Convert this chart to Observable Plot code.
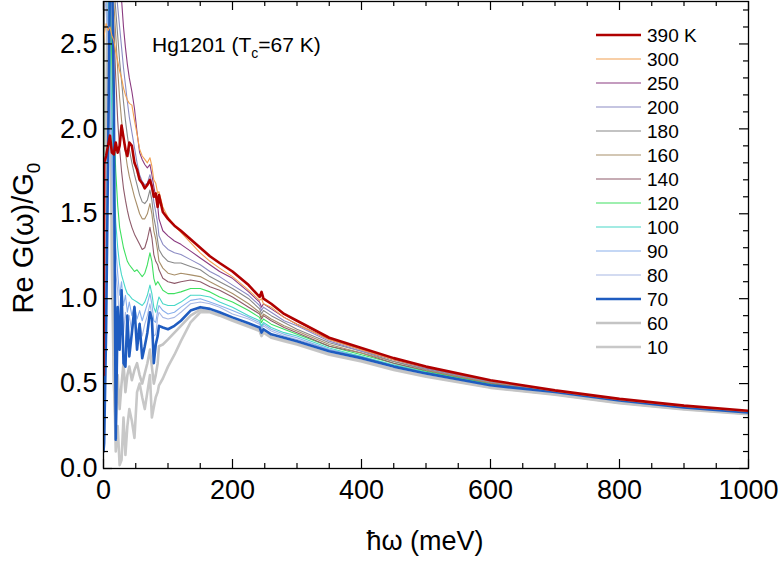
<!DOCTYPE html>
<html><head><meta charset="utf-8">
<script src="https://cdn.jsdelivr.net/npm/d3@7"></script>
<script src="https://cdn.jsdelivr.net/npm/@observablehq/plot@0.6"></script>
<style>body{margin:0;background:#fff;} #chart{position:relative;width:783px;height:562px;}</style>
</head><body><div id="chart"></div>
<script>
// photon energy grid (meV)
const energy = [0,1,4,7,10,13,16,19,22,25,28,31,34,37,40,44,48,52,56,60,64,68,72,75,78,81,84,
  86,92,100,110,120,135,150,165,180,200,225,242,245,248,260,280,300,350,400,450,500,600,700,800,900,1000];

const g390 = [0.55,1.80,1.84,1.90,1.96,1.86,1.85,1.92,1.86,1.90,2.02,1.95,1.88,1.84,1.92,1.90,1.80,1.76,1.70,1.68,1.65,1.67,1.70,1.66,1.60,1.62,1.54,
  1.61,1.51,1.47,1.43,1.40,1.35,1.30,1.25,1.21,1.16,1.08,1.01,1.04,1.00,0.97,0.91,0.87,0.77,0.71,0.65,0.60,0.52,0.46,0.41,0.37,0.34];
const g300 = [2.50,2.55,2.62,2.58,2.60,2.55,2.52,2.45,2.40,2.34,2.30,2.24,2.20,2.17,2.15,2.14,2.05,1.97,1.88,1.84,1.82,1.80,1.83,1.78,1.70,1.68,1.62,
  1.63,1.54,1.48,1.43,1.39,1.33,1.27,1.22,1.18,1.13,1.05,0.99,1.00,0.97,0.95,0.89,0.85,0.76,0.70,0.64,0.595,0.515,0.455,0.405,0.365,0.335];
const g250 = [2.80,3.00,3.00,3.00,3.00,3.00,3.00,2.95,2.90,2.85,2.76,2.60,2.48,2.38,2.30,2.22,2.12,1.98,1.86,1.82,1.79,1.77,1.79,1.73,1.66,1.60,1.55,
  1.47,1.40,1.37,1.34,1.32,1.28,1.24,1.20,1.16,1.12,1.04,0.98,0.95,0.97,0.94,0.89,0.85,0.76,0.70,0.64,0.594,0.515,0.458,0.408,0.368,0.338];
const g200 = [2.60,3.00,3.00,3.00,3.00,3.00,3.00,2.85,2.72,2.60,2.48,2.36,2.26,2.16,2.07,1.98,1.89,1.80,1.73,1.69,1.67,1.68,1.73,1.67,1.57,1.51,1.44,
  1.37,1.32,1.29,1.27,1.26,1.23,1.20,1.16,1.13,1.08,1.02,0.96,0.93,0.95,0.92,0.87,0.84,0.75,0.69,0.64,0.589,0.512,0.457,0.407,0.367,0.337];
const g180 = [2.20,3.00,3.00,3.00,3.00,2.95,2.85,2.70,2.55,2.40,2.28,2.16,2.05,1.96,1.88,1.80,1.73,1.67,1.61,1.57,1.56,1.58,1.64,1.58,1.48,1.42,1.34,
  1.29,1.25,1.22,1.21,1.21,1.19,1.17,1.13,1.10,1.06,1.00,0.94,0.91,0.93,0.90,0.86,0.82,0.74,0.69,0.63,0.585,0.509,0.456,0.406,0.366,0.336];
const g160 = [1.75,3.00,3.00,3.00,3.00,2.90,2.75,2.55,2.35,2.18,2.05,1.95,1.86,1.78,1.72,1.66,1.60,1.55,1.50,1.47,1.47,1.50,1.56,1.50,1.40,1.35,1.28,
  1.22,1.18,1.15,1.14,1.15,1.14,1.13,1.10,1.07,1.03,0.97,0.92,0.89,0.91,0.88,0.84,0.81,0.73,0.68,0.63,0.58,0.505,0.455,0.405,0.365,0.335];
const g140 = [0.50,3.00,3.00,3.00,3.00,2.85,2.60,2.30,2.05,1.88,1.75,1.65,1.58,1.52,1.47,1.42,1.38,1.35,1.32,1.29,1.30,1.35,1.42,1.36,1.26,1.22,1.20,
  1.17,1.12,1.10,1.09,1.10,1.11,1.10,1.07,1.05,1.01,0.95,0.91,0.88,0.90,0.87,0.83,0.80,0.72,0.68,0.62,0.577,0.503,0.454,0.404,0.364,0.334];
const g120 = [0.35,3.00,3.00,3.00,2.80,2.40,2.05,1.75,1.55,1.42,1.36,1.30,1.26,1.22,1.20,1.18,1.16,1.17,1.15,1.13,1.15,1.20,1.27,1.22,1.12,1.08,1.10,
  1.09,1.05,1.03,1.03,1.04,1.06,1.06,1.04,1.01,0.98,0.93,0.89,0.86,0.88,0.85,0.82,0.79,0.72,0.67,0.62,0.573,0.50,0.453,0.403,0.363,0.333];
const g100 = [0.20,3.00,3.00,2.80,2.50,2.10,1.70,1.45,1.30,1.20,1.14,1.10,1.06,1.03,1.02,1.00,0.99,0.98,0.97,0.96,0.98,1.02,1.08,1.03,0.95,0.92,0.98,
  1.01,0.97,0.96,0.96,0.98,1.02,1.02,1.01,0.98,0.95,0.90,0.87,0.84,0.86,0.83,0.80,0.78,0.71,0.66,0.61,0.568,0.496,0.452,0.402,0.362,0.332];
const g90 = [0.25,2.90,2.80,2.60,2.30,1.90,1.50,1.30,1.15,1.02,1.10,0.96,1.02,0.92,0.98,0.90,0.96,0.88,0.93,0.87,0.92,0.97,1.03,0.97,0.87,0.86,0.93,
  0.96,0.93,0.91,0.92,0.95,0.99,1.00,0.98,0.96,0.93,0.89,0.86,0.83,0.85,0.82,0.79,0.77,0.70,0.66,0.61,0.566,0.494,0.451,0.401,0.361,0.331];
const g80 = [0.15,2.80,2.70,2.50,2.10,1.70,1.35,1.15,1.05,0.85,0.98,0.80,0.92,0.82,0.90,0.80,0.88,0.80,0.86,0.78,0.85,0.90,0.97,0.90,0.78,0.79,0.89,
  0.92,0.89,0.88,0.89,0.92,0.97,0.98,0.97,0.95,0.91,0.88,0.85,0.82,0.84,0.81,0.78,0.76,0.70,0.66,0.605,0.564,0.493,0.451,0.401,0.361,0.331];
const g70 = [0.10,0.15,0.80,1.80,2.90,3.00,2.20,0.17,0.95,0.70,1.05,0.62,0.60,0.90,0.66,0.80,0.95,0.70,0.85,0.65,0.72,0.80,0.92,0.88,0.62,0.73,0.78,
  0.84,0.83,0.82,0.84,0.87,0.93,0.95,0.94,0.92,0.89,0.855,0.83,0.80,0.82,0.79,0.77,0.75,0.69,0.65,0.60,0.56,0.49,0.45,0.40,0.36,0.33];
const g60 = [0.10,0.50,2.00,3.00,2.60,1.20,0.50,0.25,0.55,0.35,0.50,0.62,0.45,0.55,0.60,0.52,0.58,0.62,0.55,0.50,0.56,0.62,0.70,0.60,0.50,0.55,0.62,
  0.72,0.73,0.76,0.80,0.84,0.90,0.935,0.925,0.905,0.875,0.84,0.815,0.785,0.805,0.775,0.755,0.735,0.675,0.635,0.585,0.545,0.478,0.437,0.388,0.35,0.322];
const g10 = [0.10,0.30,1.60,2.80,3.00,1.80,0.60,0.10,0.25,0.02,0.05,0.30,0.08,0.25,0.35,0.28,0.18,0.45,0.50,0.42,0.35,0.45,0.55,0.30,0.36,0.42,0.45,
  0.49,0.53,0.60,0.67,0.75,0.86,0.92,0.92,0.90,0.87,0.835,0.81,0.78,0.80,0.77,0.75,0.73,0.67,0.63,0.58,0.54,0.475,0.435,0.385,0.347,0.32];

const temps = ["390 K","300","250","200","180","160","140","120","100","90","80","70","60","10"];
const seriesValues = [g390,g300,g250,g200,g180,g160,g140,g120,g100,g90,g80,g70,g60,g10];

// tick values
const xMajor = [0,200,400,600,800,1000];
const xMinor = [50,100,150,250,300,350,450,500,550,650,700,750,850,900,950];
const yMajor = [0,0.5,1.0,1.5,2.0,2.5];
const yMinor = [0.1,0.2,0.3,0.4,0.6,0.7,0.8,0.9,1.1,1.2,1.3,1.4,1.6,1.7,1.8,1.9,2.1,2.2,2.3,2.4,2.6,2.7];

// styles
const lineColors = ["#b00000","#f2a050","#8a3a80","#8c8cc4","#888888","#a88f6a","#8e5a6a","#3fe060","#48d8c8","#8ab0ec","#a8b8e4","#1f5cc0","#c4c4c4","#c8c8c8"];
const lineWidths = [2.6,1.1,1.1,1.1,1.1,1.1,1.1,1.1,1.1,1.1,1.1,2.6,2.6,2.6];
const drawOrder = ["10","60","80","90","100","120","140","160","180","200","250","70","300","390 K"];

const W = 783, H = 562, mL = 103, mR = 35, mT = 1, mB = 94;
const innerW = W - mL - mR, innerH = H - mT - mB;

const rows = [];
temps.forEach((t, i) => energy.forEach((e, j) => rows.push({T: t, e, v: seriesValues[i][j]})));

const lineMarks = drawOrder.map(t => {
  const i = temps.indexOf(t);
  return Plot.line(rows.filter(r => r.T === t), {x: "e", y: "v", stroke: lineColors[i], strokeWidth: lineWidths[i], strokeLinejoin: "round", clip: true});
});

const tickStyle = {stroke: "#000", strokeWidth: 1.2};
const plot = Plot.plot({
  width: W, height: H,
  marginLeft: mL, marginRight: mR, marginTop: mT, marginBottom: mB,
  x: {domain: [0, 1000]},
  y: {domain: [0, 2.75]},
  style: {fontFamily: "'Liberation Sans', Arial, sans-serif", fontSize: "27px", color: "#000", background: "#fff", overflow: "visible"},
  marks: [
    ...lineMarks,
    Plot.ruleX(xMajor, {x: d => d, insetTop: innerH - 9, ...tickStyle}),
    Plot.ruleX(xMajor, {x: d => d, insetBottom: innerH - 9, ...tickStyle}),
    Plot.ruleX(xMinor, {x: d => d, insetTop: innerH - 5, ...tickStyle}),
    Plot.ruleX(xMinor, {x: d => d, insetBottom: innerH - 5, ...tickStyle}),
    Plot.ruleY(yMajor, {y: d => d, insetRight: innerW - 9, ...tickStyle}),
    Plot.ruleY(yMajor, {y: d => d, insetLeft: innerW - 9, ...tickStyle}),
    Plot.ruleY(yMinor, {y: d => d, insetRight: innerW - 5, ...tickStyle}),
    Plot.ruleY(yMinor, {y: d => d, insetLeft: innerW - 5, ...tickStyle}),
    Plot.frame({stroke: "#000", strokeWidth: 1.3}),
    Plot.axisX(xMajor, {tickSize: 0, tickPadding: 11, tickFormat: d => String(d), label: null}),
    Plot.axisY(yMajor, {tickSize: 0, tickPadding: 6, tickFormat: d3.format(".1f"), label: null})
  ]
});

document.getElementById("chart").appendChild(plot);
const svg = d3.select(plot);

// axis titles
svg.append("text").attr("x", 425).attr("y", 550).attr("text-anchor", "middle")
  .style("font-size", "27px").text("ħω (meV)");
const yl = svg.append("text").attr("transform", "translate(33,238) rotate(-90)").attr("text-anchor", "middle")
  .style("font-size", "29px");
yl.append("tspan").text("Re G(ω)/G");
yl.append("tspan").attr("dy", 7).style("font-size", "19px").text("0");

// sample label
const tl = svg.append("text").attr("x", 152).attr("y", 52).attr("text-anchor", "start").style("font-size", "21px");
tl.append("tspan").text("Hg1201 (T");
tl.append("tspan").attr("dy", 6).style("font-size", "14px").text("c");
tl.append("tspan").attr("dy", -6).text("=67 K)");

// legend
const lg = svg.append("g").attr("text-anchor", "start");
temps.forEach((t, i) => {
  const y = 35 + 24 * i;
  lg.append("line").attr("x1", 596).attr("x2", 641).attr("y1", y).attr("y2", y)
    .attr("stroke", lineColors[i]).attr("stroke-width", lineWidths[i]);
  lg.append("text").attr("x", 647).attr("y", y).attr("dy", "0.35em").attr("text-anchor", "start")
    .style("font-size", "19px").text(t);
});
</script>
</body></html>
